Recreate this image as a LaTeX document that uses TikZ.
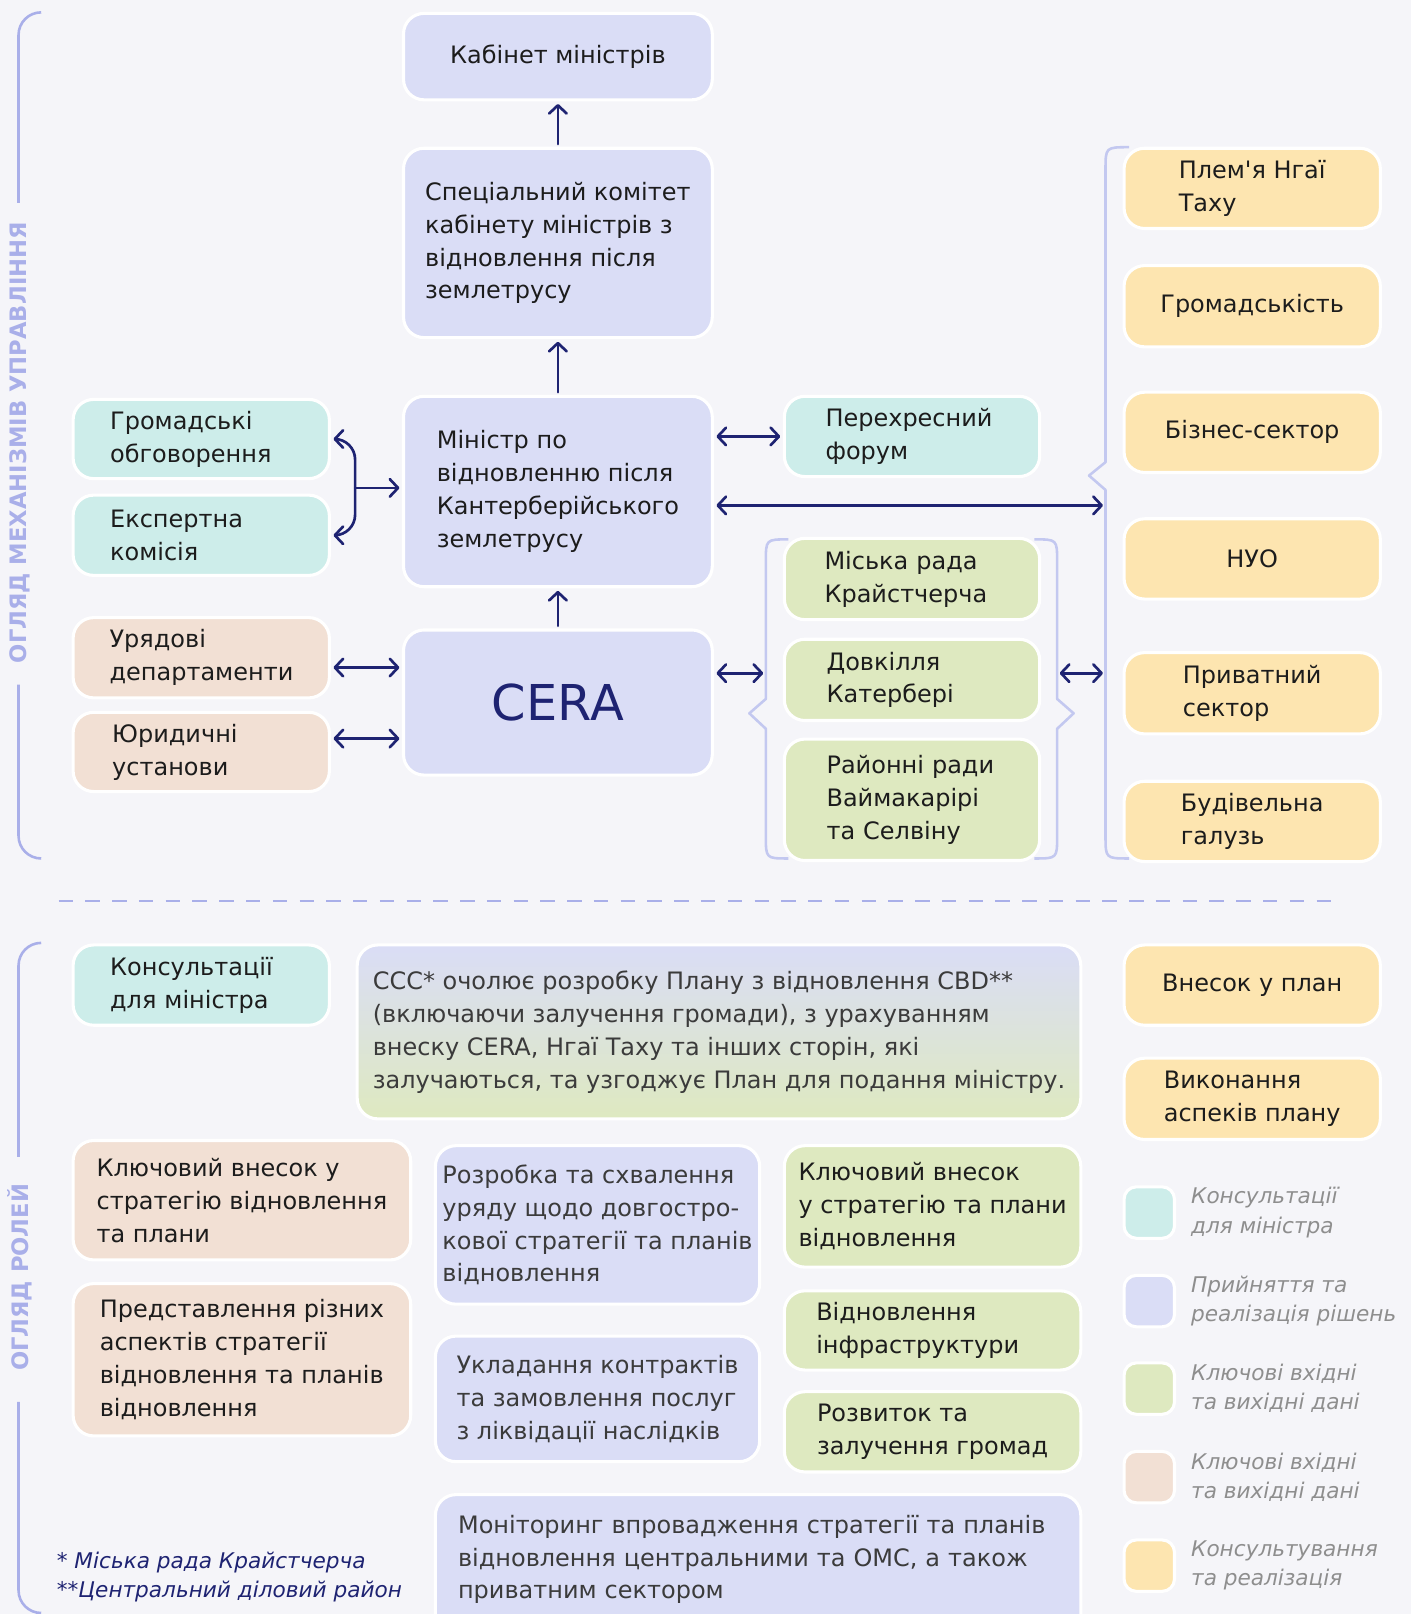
\documentclass[tikz,border=0pt]{standalone}
\usepackage{fontspec}
\setmainfont{DejaVu Sans}
\usetikzlibrary{arrows.meta}

\definecolor{bgcol}{HTML}{F5F5F9}
\definecolor{lavcol}{HTML}{DADDF6}
\definecolor{cyncol}{HTML}{CDEDEA}
\definecolor{grncol}{HTML}{DEE9C0}
\definecolor{pchcol}{HTML}{F2E0D4}
\definecolor{ylwcol}{HTML}{FDE5B0}
\definecolor{navy}{HTML}{1E2372}
\definecolor{brccol}{HTML}{C3C8F0}
\definecolor{lblcol}{HTML}{A9AFE9}
\definecolor{legcol}{HTML}{8E8E8E}
\definecolor{txt}{HTML}{1C1C1C}
\definecolor{txtg}{HTML}{3B3B3B}

\newcommand{\boxfont}{\fontsize{23.3}{32}\selectfont}
\newcommand{\legfont}{\itshape\fontsize{21}{28.5}\selectfont}
\newcommand{\lblfont}{\bfseries\fontsize{22}{26}\selectfont}

\tikzset{x=1pt, y=-1pt}
\tikzset{
  box/.style={draw=white, line width=3pt, rounded corners=20pt, inner sep=0pt,
    align=left, text=txt, font=\boxfont},
  lav/.style={box, fill=lavcol},
  cyn/.style={box, fill=cyncol},
  grn/.style={box, fill=grncol},
  pch/.style={box, fill=pchcol},
  ylw/.style={box, fill=ylwcol},
  sz/.style 2 args={minimum width=#1, minimum height=#2},
  tw/.style={text width=#1},
  arr/.style={draw=navy, line width=2.6pt, line cap=round,
    -{Straight Barb[length=8pt, width=17pt, round]}, shorten >=2.5pt, shorten <=2.5pt},
  dbl/.style={arr, {Straight Barb[length=8pt, width=17pt, round]}-{Straight Barb[length=8pt, width=17pt, round]}},
  brace/.style={draw=brccol, line width=2.5pt, line join=round},
  sect/.style={draw=lblcol, line width=2.5pt},
}

\begin{document}
\begin{tikzpicture}
\useasboundingbox (0,0) rectangle (1371,1568);
\fill[bgcol] (0,0) rectangle (1371,1568);

% side brackets and titles
\draw[sect, rounded corners=22pt] (40,12) -- (18,12) -- (18,197);
\draw[sect, rounded corners=22pt] (18,665) -- (18,834) -- (40,834);
\draw[sect, rounded corners=22pt] (40,916) -- (18,916) -- (18,1124);
\draw[sect, rounded corners=22pt] (18,1362) -- (18,1567) -- (40,1567);
\node[rotate=90, text=lblcol, font=\lblfont] (tgov) at (19,430) {ОГЛЯД МЕХАНІЗМІВ УПРАВЛІННЯ};
\node[rotate=90, text=lblcol, font=\lblfont] (troles) at (19,1241) {ОГЛЯД РОЛЕЙ};
\draw[sect, line width=2.2pt, dash pattern=on 14pt off 12pt] (57,875) -- (1300,875);

% braces (under the boxes)
\draw[brace] (1097,143) .. controls (1074,143) .. (1074,165) -- (1074,449) -- (1058,462)
  -- (1074,476) -- (1074,812) .. controls (1074,834) .. (1097,834);
\draw[brace] (766,524) .. controls (744,524) .. (744,546) -- (744,679) -- (728,693)
  -- (744,708) -- (744,812) .. controls (744,834) .. (766,834);
\draw[brace] (1005,524) .. controls (1027,524) .. (1027,546) -- (1027,679) -- (1043,693)
  -- (1027,708) -- (1027,812) .. controls (1027,834) .. (1005,834);

% upper part
\node[lav, sz={300}{84}] (cab) at (542,55) {Кабінет міністрів};
\node[lav, sz={300}{184}] (spec) at (542,236) {Спеціальний комітет\\кабінету міністрів з\\відновлення після\\землетрусу};
\node[lav, sz={300}{185}] (min) at (542,477.5) {Міністр по\\відновленню після\\Кантерберійського\\землетрусу};
\node[lav, sz={300}{141}, text=navy, font=\fontsize{48}{50}\selectfont] (cera) at (542,682.5) {CERA};
\node[cyn, sz={249}{77}, tw=177] (gro) at (195.5,426.5) {Громадські\\обговорення};
\node[cyn, sz={249}{78}, tw=177] (exp) at (195.5,520) {Експертна\\комісія};
\node[pch, sz={249}{78}, tw=178] (gov) at (195.5,639) {Урядові\\департаменти};
\node[pch, sz={249}{77}, tw=173] (jur) at (195.5,730.5) {Юридичні\\установи};
\node[cyn, sz={248}{78}, tw=168] (cross) at (886,424) {Перехресний\\форум};
\node[grn, sz={248}{79}, tw=170] (city) at (886,562.5) {Міська рада\\Крайстчерча};
\node[grn, sz={248}{79}, tw=166] (env) at (886,660.5) {Довкілля\\Катербері};
\node[grn, sz={248}{118}, tw=166] (dist) at (886,777) {Районні ради\\Ваймакарірі\\та Селвіну};
\node[ylw, sz={249}{78}] (ngai) at (1216.5,183) {Плем\textquotesingle я Нгаї\\Таху};
\node[ylw, sz={249}{79}] (pub) at (1216.5,297.5) {Громадськість};
\node[ylw, sz={249}{78}] (biz) at (1216.5,420) {Бізнес-сектор};
\node[ylw, sz={249}{78}] (ngo) at (1216.5,543) {НУО};
\node[ylw, sz={249}{79}] (priv) at (1216.5,673.5) {Приватний\\сектор};
\node[ylw, sz={249}{78}] (bld) at (1216.5,798) {Будівельна\\галузь};

% connectors
\draw[arr] (spec.north) -- (cab.south);
\draw[arr] (min.north) -- (spec.south);
\draw[arr] (cera.north) -- (min.south);
\coordinate (bus) at (345,474);
\draw[dbl, rounded corners=20pt] (gro.east) -| (bus) |- (exp.east);
\draw[arr, shorten <=0pt] (bus) -- (bus -| min.west);
\draw[dbl] (min.east |- cross) -- (cross.west);
\coordinate (yT) at (1074,491);
\draw[dbl] (min.east |- yT) -- (yT);
\coordinate (c1) at ([yshift=34pt]cera.west);
\coordinate (c2) at ([yshift=-35pt]cera.west);
\draw[dbl] (gov.east |- c1) -- (c1);
\draw[dbl] (jur.east |- c2) -- (c2);
\coordinate (gL) at (744,654);
\coordinate (gR) at (1027,654);
\coordinate (yL) at (1074,654);
\draw[dbl] (cera.east |- gL) -- (gL);
\draw[dbl] (gR) -- (yL);

% lower part
\node[cyn, sz={249}{78}, tw=177] (cons) at (195.5,957) {Консультації\\для міністра};
\node[box, top color=lavcol, bottom color=grncol, text=txtg, sz={703}{169}] (ccc) at (698.5,1002.5)
  {CCC* очолює розробку Плану з відновлення CBD**\\(включаючи залучення громади), з урахуванням\\внеску CERA, Нгаї Таху та інших сторін, які\\залучаються, та узгоджує План для подання міністру.};
\node[ylw, sz={249}{78}] (input) at (1216.5,957) {Внесок у план};
\node[ylw, sz={249}{79}] (exec) at (1216.5,1067.5) {Виконання\\аспеків плану};
\node[pch, sz={328}{116}] (key1) at (235,1166) {Ключовий внесок у\\стратегію відновлення\\та плани};
\node[pch, sz={328}{148}] (repr) at (235,1321) {Представлення різних\\аспектів стратегії\\відновлення та планів\\відновлення};
\node[lav, text=txtg, sz={315}{154}] (dev) at (580.5,1190) {Розробка та схвалення\\уряду щодо довгостро-\\кової стратегії та планів\\відновлення};
\node[lav, text=txtg, sz={315}{122}] (cont) at (580.5,1359) {Укладання контрактів\\та замовлення послуг\\з ліквідації наслідків};
\node[lav, text=txtg, sz={627}{153}, tw=583] (mon) at (736.5,1528.5) {Моніторинг впровадження стратегії та планів\\відновлення центральними та ОМС, а також\\приватним сектором\\\mbox{}};
\node[grn, sz={288}{118}] (key2) at (906,1172) {Ключовий внесок\\у стратегію та плани\\відновлення};
\node[grn, sz={288}{77}, tw=226] (infra) at (906,1292.5) {Відновлення\\інфраструктури};
\node[grn, sz={288}{78}] (comm) at (906,1391) {Розвиток та\\залучення громад};

% legend
\foreach \c/\y/\t [count=\i] in {cyncol/1178/Консультації\\для міністра,
    lavcol/1264/Прийняття та\\реалізація рішень,
    grncol/1349/Ключові вхідні\\та вихідні дані,
    pchcol/1435/Ключові вхідні\\та вихідні дані,
    ylwcol/1521/Консультування\\та реалізація}{
  \node[box, fill=\c, sz={49}{50}, rounded corners=12pt] (sq\i) at (1116.5,\y) {};
  \node[anchor=west, align=left, inner sep=0pt, text=legcol, font=\legfont] (lg\i) at (1157,\y) {\t};
}

% footnotes
\node[anchor=west, align=left, inner sep=0pt, text=navy, font=\legfont] (notes) at (55,1532)
  {* Міська рада Крайстчерча\\**Центральний діловий район};
\end{tikzpicture}
\end{document}
